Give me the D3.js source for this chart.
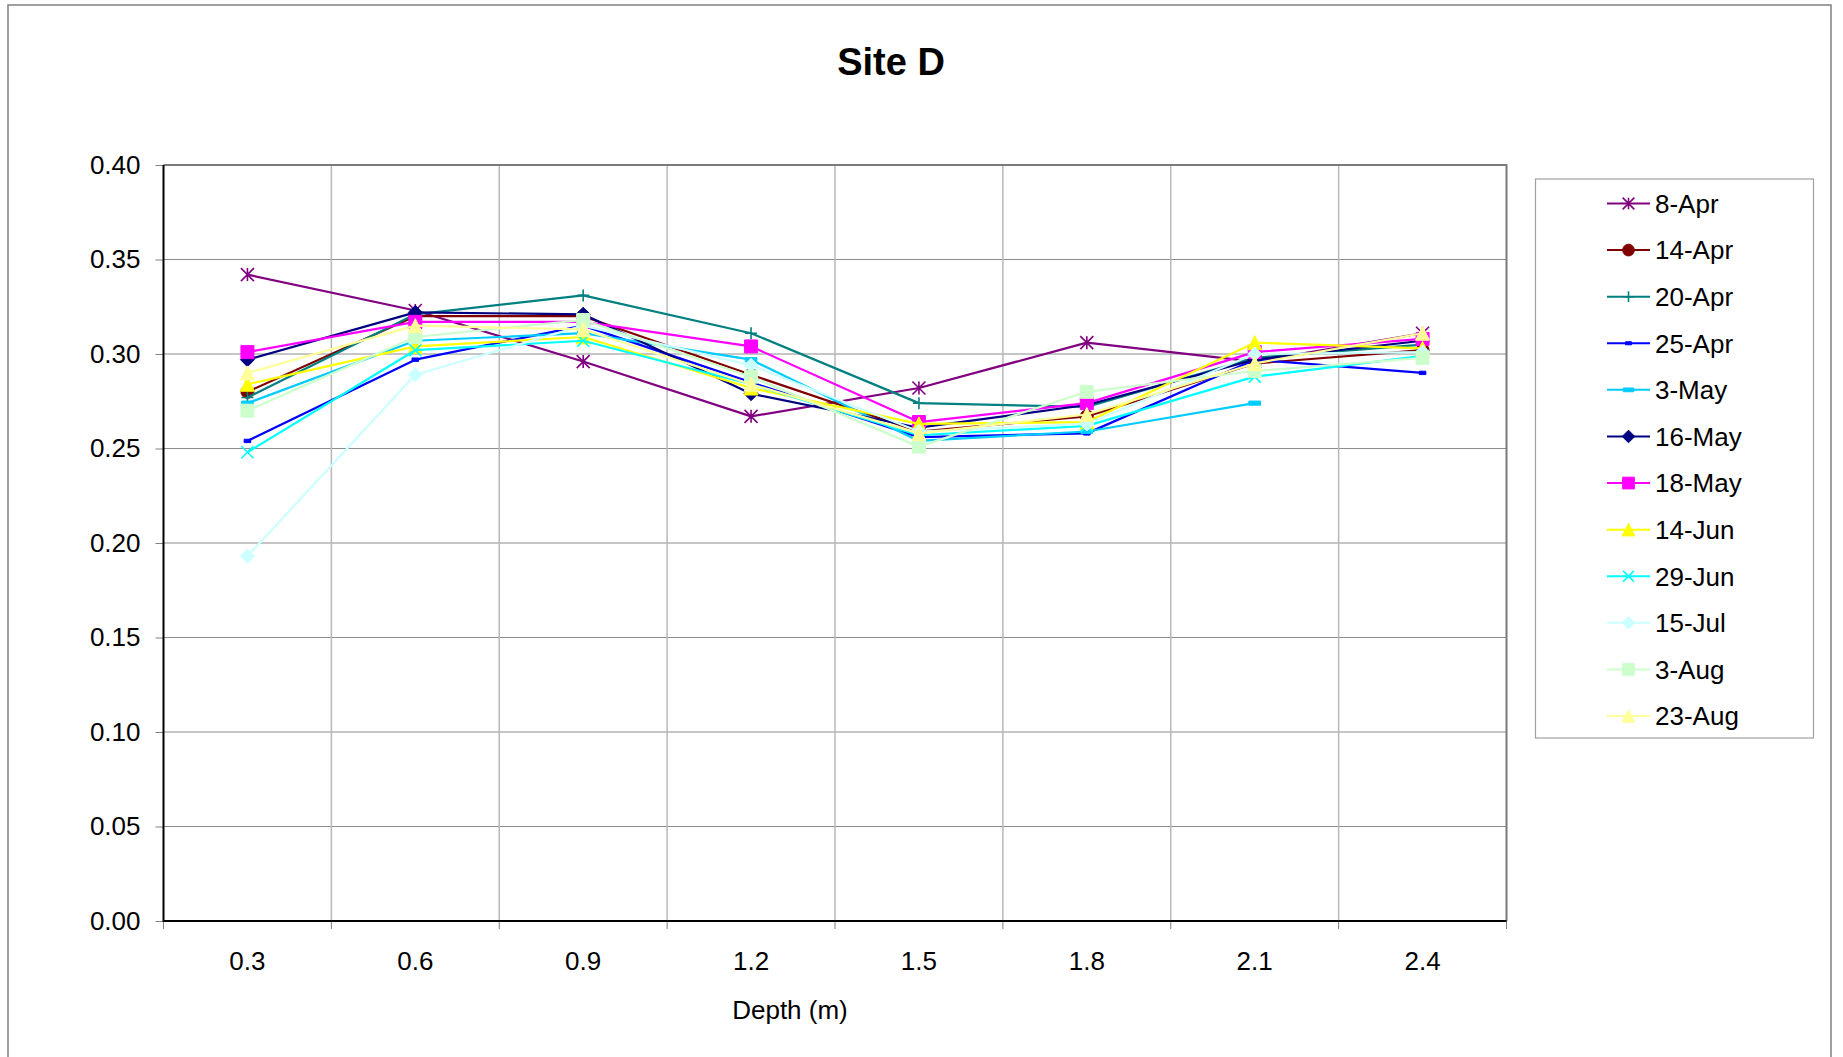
<!DOCTYPE html>
<html>
<head>
<meta charset="utf-8">
<script src="https://cdn.jsdelivr.net/npm/d3@7"></script>
<style>
  html, body { margin: 0; padding: 0; background: #fff; }
  svg { display: block; font-family: "Liberation Sans", Arial, sans-serif; }
</style>
</head>
<body>
<svg id="chart" width="1843" height="1057"></svg>
<script>
// Depth categories (m) and y-axis ticks
const depths = ["0.3", "0.6", "0.9", "1.2", "1.5", "1.8", "2.1", "2.4"];
const yTicks = [0, 0.05, 0.10, 0.15, 0.20, 0.25, 0.30, 0.35, 0.40];

// Sampling dates
const dates = ["8-Apr", "14-Apr", "20-Apr", "25-Apr", "3-May", "16-May",
               "18-May", "14-Jun", "29-Jun", "15-Jul", "3-Aug", "23-Aug"];

// Readings per date, one value per depth (null = not measured)
const apr08 = [0.342, 0.323, 0.296, 0.267, 0.282, 0.306, 0.296, 0.311];
const apr14 = [0.280, 0.320, 0.320, 0.289, 0.259, 0.267, 0.295, 0.302];
const apr20 = [0.277, 0.321, 0.331, 0.311, 0.274, 0.272, 0.298, 0.305];
const apr25 = [0.254, 0.297, 0.315, 0.285, 0.256, 0.258, 0.297, 0.290];
const may03 = [0.274, 0.307, 0.311, 0.297, 0.254, 0.259, 0.274, null];
const may16 = [0.297, 0.322, 0.321, 0.279, 0.261, 0.273, 0.297, 0.307];
const may18 = [0.301, 0.317, 0.317, 0.304, 0.264, 0.274, 0.301, 0.308];
const jun14 = [0.284, 0.304, 0.309, 0.282, 0.263, 0.264, 0.306, 0.303];
const jun29 = [0.248, 0.302, 0.307, 0.284, 0.257, 0.262, 0.288, 0.299];
const jul15 = [0.193, 0.289, 0.315, 0.294, 0.259, 0.263, 0.300, 0.301];
const aug03 = [0.270, 0.309, 0.318, 0.288, 0.251, 0.280, 0.291, 0.298];
const aug23 = [0.290, 0.315, 0.313, 0.284, 0.258, 0.268, 0.295, 0.311];

const values = [apr08, apr14, apr20, apr25, may03, may16,
                may18, jun14, jun29, jul15, aug03, aug23];

// Line colour and marker shape for each date
const colors = ["#800080", "#800000", "#008080", "#0000ff", "#00ccff", "#000080",
                "#ff00ff", "#ffff00", "#00ffff", "#ccffff", "#ccffcc", "#ffff99"];
const shapes = ["asterisk", "circle", "plus", "shortdash", "dash", "diamond",
                "square", "triangle", "x", "diamond", "square", "triangle"];

const series = dates.map((name, i) => ({
  name, color: colors[i], shape: shapes[i],
  points: values[i].map((v, j) => ({ depth: depths[j], value: v }))
}));

// ---- layout ----
const svg = d3.select("#chart");
const plot = { left: 163.5, right: 1506.5, top: 165, bottom: 921 };
const FONT = 26;

const x = d3.scaleBand().domain(depths).range([plot.left, plot.right]);
const y = d3.scaleLinear().domain([0, 0.4]).range([plot.bottom, plot.top]);

// outer frame
svg.append("rect")
  .attr("x", 8).attr("y", 5).attr("width", 1823).attr("height", 1060)
  .attr("fill", "none").attr("stroke", "#808080").attr("stroke-width", 1.5);

// title
svg.append("text")
  .attr("x", 891).attr("y", 75)
  .attr("text-anchor", "middle")
  .attr("font-size", 38).attr("font-weight", "bold")
  .text("Site D");

// gridlines
const grid = svg.append("g");
grid.selectAll("line.h").data(yTicks.filter(d => d > 0 && d < 0.4)).join("line")
  .attr("x1", plot.left).attr("x2", plot.right)
  .attr("y1", d => y(d)).attr("y2", d => y(d))
  .attr("stroke", "#8c8c8c").attr("stroke-width", 1.2);
grid.selectAll("line.v").data(depths.slice(1)).join("line")
  .attr("x1", d => x(d)).attr("x2", d => x(d))
  .attr("y1", plot.top).attr("y2", plot.bottom)
  .attr("stroke", "#b8b8b8").attr("stroke-width", 1.5);

// plot frame: top & right in grey
svg.append("path")
  .attr("d", `M${plot.left},${plot.top}H${plot.right}V${plot.bottom}`)
  .attr("fill", "none").attr("stroke", "#7a7a7a").attr("stroke-width", 2);

// y axis
const yAxis = svg.append("g")
  .attr("transform", `translate(${plot.left},0)`)
  .call(d3.axisLeft(y).tickValues(yTicks).tickFormat(d3.format(".2f"))
        .tickSize(8).tickPadding(15));
yAxis.select(".domain").remove();
yAxis.selectAll(".tick line").attr("stroke", "#808080");
yAxis.selectAll(".tick text").attr("font-size", FONT)
  .attr("font-family", "Liberation Sans, Arial, sans-serif").attr("fill", "#000");

// x axis labels at category centres
const xAxis = svg.append("g")
  .attr("transform", `translate(0,${plot.bottom})`)
  .call(d3.axisBottom(x).tickSize(0).tickPadding(31));
xAxis.select(".domain").remove();
xAxis.selectAll(".tick text").attr("font-size", FONT)
  .attr("font-family", "Liberation Sans, Arial, sans-serif").attr("fill", "#000");

// x tick marks at category boundaries
const bounds = depths.map(d => x(d)).concat([plot.right]);
svg.append("g").selectAll("line").data(bounds).join("line")
  .attr("x1", d => d).attr("x2", d => d)
  .attr("y1", plot.bottom).attr("y2", plot.bottom + 8)
  .attr("stroke", "#808080").attr("stroke-width", 1);

// axis lines
svg.append("path")
  .attr("d", `M${plot.left},${plot.top}V${plot.bottom}H${plot.right}`)
  .attr("fill", "none").attr("stroke", "#000").attr("stroke-width", 2);

// x axis title
svg.append("text")
  .attr("x", 790).attr("y", 1019)
  .attr("text-anchor", "middle").attr("font-size", FONT)
  .text("Depth (m)");

// ---- markers ----
function markerPath(shape, s) {
  // s = half-size
  switch (shape) {
    case "circle": {
      return `M${s},0A${s},${s} 0 1,1 ${-s},0A${s},${s} 0 1,1 ${s},0Z`;
    }
    case "square": return `M${-s},${-s}H${s}V${s}H${-s}Z`;
    case "diamond": return `M0,${-s}L${s},0L0,${s}L${-s},0Z`;
    case "triangle": return `M0,${-s}L${s},${s}L${-s},${s}Z`;
    case "plus": return `M${-s},0H${s}M0,${-s}V${s}`;
    case "x": return `M${-s},${-s}L${s},${s}M${-s},${s}L${s},${-s}`;
    case "asterisk": {
      const d = s * 0.8;
      return `M${-s},${-s}L${s},${s}M${-s},${s}L${s},${-s}M0,${-s}V${s}`;
    }
    case "shortdash": return `M${-s * 0.55},${-s * 0.28}H${s * 0.55}V${s * 0.28}H${-s * 0.55}Z`;
    case "dash": return `M${-s * 0.9},${-s * 0.32}H${s * 0.9}V${s * 0.32}H${-s * 0.9}Z`;
  }
}
const isStroked = shape => ["plus", "x", "asterisk"].includes(shape);
const markerSize = { circle: 6.5, square: 6.5, diamond: 7, triangle: 7,
                     plus: 6, x: 6, asterisk: 6.5, shortdash: 6, dash: 6.5 };

function drawMarker(sel, s, sizeScale) {
  sel.attr("d", markerPath(s.shape, markerSize[s.shape] * sizeScale))
    .attr("fill", isStroked(s.shape) ? "none" : s.color)
    .attr("stroke", s.color)
    .attr("stroke-width", isStroked(s.shape) ? 1.6 : 1);
}

// ---- lines ----
const line = d3.line()
  .defined(d => d.value != null)
  .x(d => x(d.depth) + x.bandwidth() / 2)
  .y(d => y(d.value));

const seriesG = svg.append("g").selectAll("g").data(series).join("g");
seriesG.append("path")
  .attr("d", d => line(d.points))
  .attr("fill", "none")
  .attr("stroke", d => d.color)
  .attr("stroke-width", 2.2)
  .attr("stroke-linejoin", "round");
seriesG.each(function (s) {
  d3.select(this).selectAll("path.m")
    .data(s.points.filter(p => p.value != null)).join("path")
    .attr("class", "m")
    .attr("transform", p => `translate(${x(p.depth) + x.bandwidth() / 2},${y(p.value)})`)
    .call(sel => drawMarker(sel, s, 1));
});

// ---- legend ----
const legend = svg.append("g");
legend.append("rect")
  .attr("x", 1535.5).attr("y", 179).attr("width", 278).attr("height", 559)
  .attr("fill", "#fff").attr("stroke", "#a0a0a0").attr("stroke-width", 1.2);
const ly = d3.scalePoint().domain(dates).range([203.5, 716]);
const item = legend.selectAll("g.item").data(series).join("g")
  .attr("transform", d => `translate(0,${ly(d.name)})`);
item.append("line")
  .attr("x1", 1607).attr("x2", 1650)
  .attr("stroke", d => d.color).attr("stroke-width", 2);
item.append("path")
  .attr("transform", "translate(1628.5,0)")
  .each(function (s) { drawMarker(d3.select(this), s, 0.9); });
item.append("text")
  .attr("x", 1655).attr("dy", "0.36em")
  .attr("font-size", FONT)
  .text(d => d.name);
</script>
</body>
</html>
